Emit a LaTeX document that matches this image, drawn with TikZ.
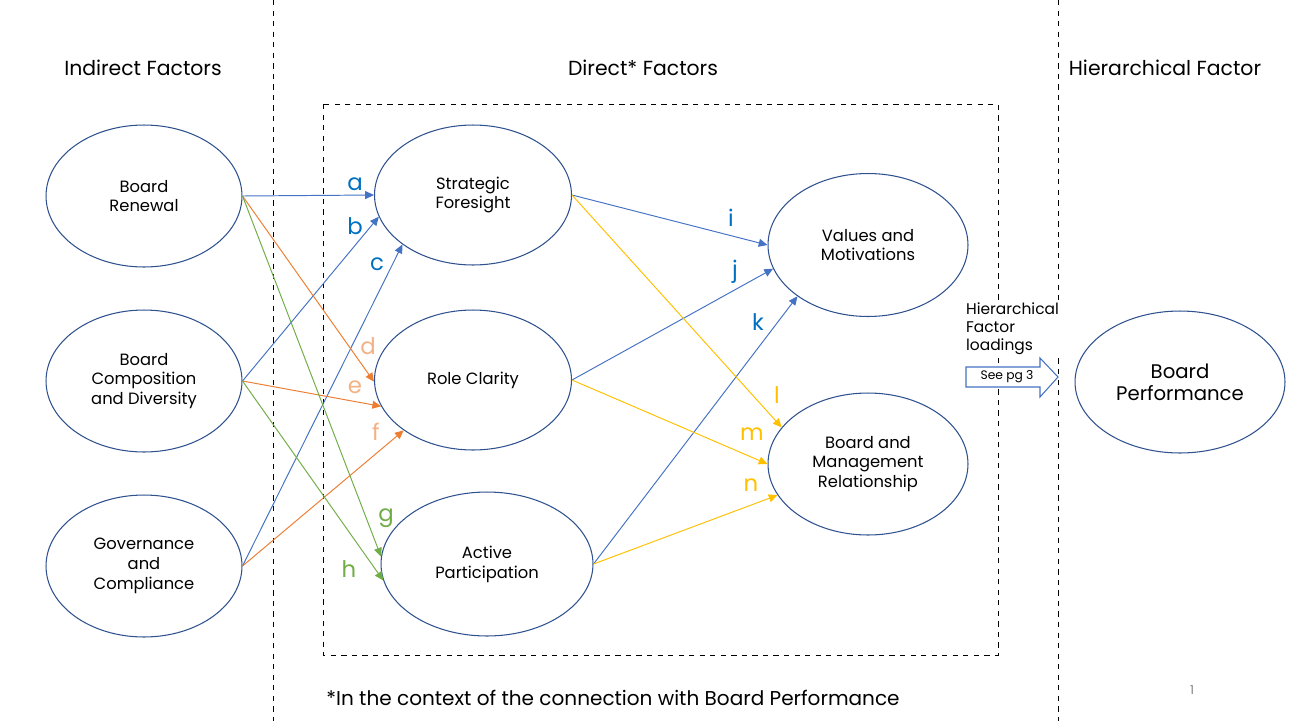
\documentclass[tikz,border=0pt]{standalone}
\usepackage{fontspec}
\setmainfont{Poppins}
\usetikzlibrary{arrows.meta}
\definecolor{lineblue}{HTML}{4472C4}
\definecolor{textblue}{HTML}{0070C0}
\definecolor{lineorange}{HTML}{ED7D31}
\definecolor{textorange}{HTML}{F4B183}
\definecolor{linegreen}{HTML}{70AD47}
\definecolor{lineyellow}{HTML}{FFC000}
\definecolor{rimblue}{HTML}{2F528F}

\tikzset{
	factor/.style={draw=rimblue, line width=0.6pt, ellipse, align=center, font=\fontsize{9.3}{11.3}\selectfont},
	link/.style={line width=0.55pt, -{Triangle[length=5pt,width=4.5pt]}},
	letter/.style={font=\fontsize{13}{15}\selectfont},
	heading/.style={font=\fontsize{11.6}{13}\selectfont}
}
\usetikzlibrary{shapes.geometric}

\begin{document}
\begin{tikzpicture}[x=0.02cm,y=-0.02cm]
	\useasboundingbox (0,0) rectangle (1295,721);
	
	% columns and frame
	\draw[dashed] (273,0) -- (273,721);
	\draw[dashed] (1058,0) -- (1058,721);
	\draw[dashed] (323,104) rectangle (998,655);
	
	\node[heading] (hind) at (143,68) {Indirect Factors};
	\node[heading] (hdir) at (643,68) {Direct* Factors};
	\node[heading] (hhie) at (1165,68) {Hierarchical Factor};
	
	% indirect
	\node[factor, minimum width=3.92cm, minimum height=2.84cm] (br) at (144,196) {Board\\Renewal};
	\node[factor, minimum width=3.92cm, minimum height=2.84cm] (bc) at (144,381) {Board\\Composition\\and Diversity};
	\node[factor, minimum width=3.92cm, minimum height=2.84cm] (gc) at (144,566) {Governance\\and\\Compliance};
	
	% direct
	\node[factor, minimum width=3.94cm, minimum height=2.8cm] (sf) at (473,195) {Strategic\\Foresight};
	\node[factor, minimum width=3.94cm, minimum height=2.8cm] (rc) at (473,380) {Role Clarity};
	\node[factor, minimum width=4.24cm, minimum height=2.88cm] (ap) at (487,564) {Active\\Participation};
	\node[factor, minimum width=4cm, minimum height=2.86cm] (vm) at (868,245) {Values and\\Motivations};
	\node[factor, minimum width=4cm, minimum height=2.84cm] (bm) at (868,464) {Board and\\Management\\Relationship};
	
	% hierarchical
	\node[factor, minimum width=4.2cm, minimum height=2.84cm, font=\fontsize{11.2}{12.5}\selectfont] (bp) at (1180,382) {Board\\Performance};
	\node[align=left, anchor=north west, inner sep=1pt, fill=white, font=\fontsize{8.8}{10.2}\selectfont] (load) at (964,301) {Hierarchical\\Factor\\loadings};
	\draw[lineblue, fill=white, line width=0.6pt] (966,367) -- (1040,367) -- (1040,358) -- (1058,377) -- (1040,397) -- (1040,387) -- (966,387) -- cycle;
	\node[font=\fontsize{7}{7}\selectfont] (seepg) at (1007,377) {See pg 3};
	
	% blue
	\draw[link, lineblue] (br.east) -- (sf.west);
	\draw[link, lineblue] (bc.east) -- (sf.193.6);
	\draw[link, lineblue] (gc.east) -- (sf.215.4);
	% orange
	\draw[link, lineorange] (br.east) -- (rc.181);
	\draw[link, lineorange] (bc.east) -- (rc.196.2);
	\draw[link, lineorange] (gc.east) -- (rc.216.1);
	% green
	\draw[link, linegreen] (br.east) -- (ap.176.8);
	\draw[link, linegreen] (bc.east) -- (ap.189.7);
	% to values
	\draw[link, lineblue] (sf.east) -- (vm.west);
	\draw[link, lineblue] (rc.east) -- (vm.194);
	\draw[link, lineblue] (ap.east) -- (vm.216);
	% to relationship
	\draw[link, lineyellow] (sf.east) -- (bm.157.7);
	\draw[link, lineyellow] (rc.east) -- (bm.west);
	\draw[link, lineyellow] (ap.east) -- (bm.199.4);
	
	\node[letter, textblue] (la) at (355,184) {a};
	\node[letter, textblue] (lb) at (355,226) {b};
	\node[letter, textblue] (lc) at (377,264) {c};
	\node[letter, textorange] (ld) at (368,346) {d};
	\node[letter, textorange] (le) at (355,387) {e};
	\node[letter, textorange] (lf) at (376,432) {f};
	\node[letter, linegreen] (lg) at (386,518) {g};
	\node[letter, linegreen] (lh) at (349,569) {h};
	\node[letter, textblue] (li) at (731,218) {i};
	\node[letter, textblue] (lj) at (735,272) {j};
	\node[letter, textblue] (lk) at (758,322) {k};
	\node[letter, lineyellow] (ll) at (777,395) {l};
	\node[letter, lineyellow] (lm) at (752,434) {m};
	\node[letter, lineyellow] (ln) at (751,485) {n};
	
	\node[font=\fontsize{11.4}{13}\selectfont] (note) at (613,698) {*In the context of the connection with Board Performance};
	\node[gray, font=\fontsize{7}{8}\selectfont] (pnum) at (1192,690) {1};
\end{tikzpicture}
\end{document}
